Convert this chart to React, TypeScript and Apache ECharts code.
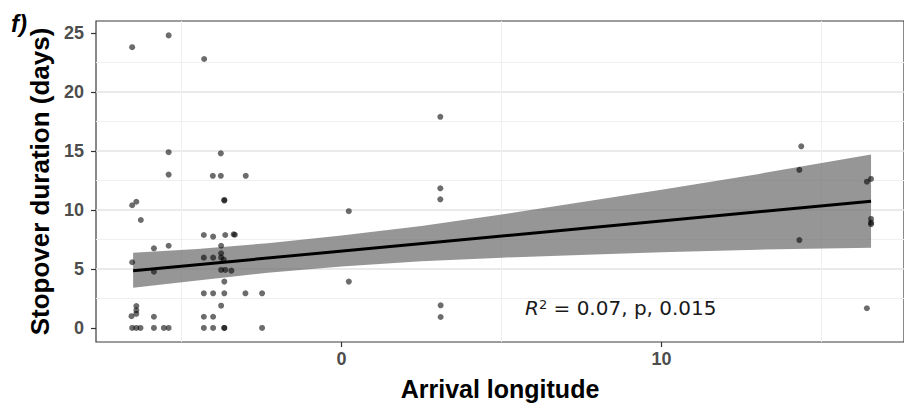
import React, { useEffect, useRef } from "react";
import * as echarts from "echarts";

// Tick labels
const xTicks = [0, 10];
const yTicks = [0, 5, 10, 15, 20, 25];

// Observations (arrival longitude, stopover duration in days)
const pointLon = [
  -6.54, -5.4, -4.29, -5.4, -3.77, -5.4, -4.02, -3.77, -2.99,
  -6.54, -6.41, -6.27, -3.66, -3.66,
  -6.54, -5.86, -5.4, -5.86,
  -4.3, -4.01, -3.63, -3.37, -3.33,
  -3.76, -3.76, -4.3, -4.01, -3.68, -3.76,
  -3.76, -3.63, -3.44, -3.66,
  -4.3, -4.01, -3.66, -3.0, -2.48,
  -3.76, -6.41, -6.41, -6.41, -6.56, -5.86, -4.3, -4.01,
  -6.54, -6.41, -6.28, -5.86, -5.55, -5.4, -4.3, -4.01, -3.66, -3.66, -2.48,
  0.23, 0.23, 3.09, 3.09, 3.09, 3.1, 3.1,
  14.37, 14.31, 14.31, 16.42, 16.55, 16.55, 16.55, 16.55, 16.42,
];
const pointDays = [
  23.8, 24.8, 22.8, 14.9, 14.8, 13.0, 12.9, 12.9, 12.9,
  10.4, 10.7, 9.15, 10.85, 10.8,
  5.57, 6.75, 6.97, 4.77,
  7.88, 7.74, 7.88, 7.94, 7.9,
  6.97, 6.33, 5.96, 5.96, 5.8, 5.96,
  4.92, 4.92, 4.86, 3.93,
  2.94, 2.94, 2.94, 2.94, 2.94,
  1.89, 1.86, 1.5, 1.2, 1.0, 0.95, 0.95, 0.95,
  0, 0, 0, 0, 0, 0, 0, 0, 0, 0, 0,
  9.9, 3.93, 17.9, 11.84, 10.9, 1.92, 0.93,
  15.4, 13.4, 7.45, 12.4, 12.63, 9.24, 8.93, 8.8, 1.67,
];

// Linear fit and its confidence band
const fitLon = [-6.51, 16.55];
const fitDays = [4.85, 10.75];
const bandLon = [-6.51, -4.5, -2.3, 0, 2.5, 5, 10, 13, 16.55];
const bandUpper = [6.38, 6.7, 7.18, 7.83, 8.65, 9.62, 11.72, 13.04, 14.7];
const bandLower = [3.4, 4.03, 4.68, 5.2, 5.65, 5.96, 6.42, 6.64, 6.8];

const FONT = "'Liberation Sans', Arial, sans-serif";

export default function App() {
  const ref = useRef<HTMLDivElement>(null);

  useEffect(() => {
    document.body.style.margin = "0";
    if (!ref.current) return;
    const chart = echarts.init(ref.current, undefined, { renderer: "svg" });

    const points = pointLon.map((x, i) => [x, pointDays[i]]);
    const fitData = fitLon.map((x, i) => [x, fitDays[i]]);

    const axisCommon = {
      type: "value",
      axisLine: { show: false, onZero: false },
      splitLine: {
        show: true,
        showMinLine: false,
        showMaxLine: false,
        lineStyle: { color: "#e3e3e3", width: 1.6 },
      },
      minorTick: { show: false, splitNumber: 2 },
      minorSplitLine: { show: true, lineStyle: { color: "#efefef", width: 1 } },
    };

    chart.setOption({
      animation: false,
      grid: {
        left: 96,
        right: 0,
        top: 21,
        bottom: 64,
        show: true,
        borderColor: "#3a3a3a",
        borderWidth: 1.2,
        backgroundColor: "transparent",
      },
      xAxis: {
        ...axisCommon,
        min: -7.67,
        max: 17.58,
        splitNumber: 3,
        name: "Arrival longitude",
        nameLocation: "middle",
        nameGap: 34,
        nameTextStyle: { fontFamily: FONT, fontSize: 25, fontWeight: "bold", color: "#000" },
        axisTick: {
          show: true,
          customValues: xTicks,
          length: 5,
          lineStyle: { color: "#333", width: 1.2 },
        },
        axisLabel: {
          customValues: xTicks,
          margin: 8,
          fontFamily: FONT,
          fontSize: 18,
          fontWeight: "bold",
          color: "#4d4d4d",
        },
      },
      yAxis: {
        ...axisCommon,
        min: -1.19,
        max: 26.02,
        splitNumber: 5,
        name: "Stopover duration (days)",
        nameLocation: "middle",
        nameGap: 40,
        nameRotate: 90,
        nameTextStyle: { fontFamily: FONT, fontSize: 26, fontWeight: "bold", color: "#000" },
        axisTick: {
          show: true,
          customValues: yTicks,
          length: 5,
          lineStyle: { color: "#333", width: 1.2 },
        },
        axisLabel: {
          customValues: yTicks,
          margin: 12,
          fontFamily: FONT,
          fontSize: 18,
          fontWeight: "bold",
          color: "#4d4d4d",
        },
      },
      series: [
        {
          type: "custom",
          data: [[bandLon[0], bandLower[0]]],
          z: 2,
          silent: true,
          renderItem: (_params: any, api: any) => {
            const pts: number[][] = [];
            for (let i = 0; i < bandLon.length; i++) pts.push(api.coord([bandLon[i], bandUpper[i]]));
            for (let i = bandLon.length - 1; i >= 0; i--) pts.push(api.coord([bandLon[i], bandLower[i]]));
            return {
              type: "polygon",
              shape: { points: pts },
              style: { fill: "rgba(110,110,110,0.72)", stroke: "none" },
            };
          },
        },
        {
          type: "line",
          data: fitData,
          symbol: "none",
          lineStyle: { color: "#000", width: 3 },
          z: 3,
          silent: true,
        },
        {
          type: "scatter",
          data: points,
          symbol: "circle",
          symbolSize: 6,
          itemStyle: { color: "rgba(0,0,0,0.72)" },
          z: 4,
          silent: true,
        },
      ],
      graphic: [
        {
          type: "text",
          left: 11,
          top: 11,
          style: {
            text: "f)",
            fontFamily: FONT,
            fontSize: 24,
            fontWeight: "bold",
            fontStyle: "italic",
            fill: "#000",
          },
        },
        {
          type: "text",
          left: 525,
          top: 298,
          z: 10,
          style: {
            text: "{r|R}{s|2}{t| = 0.07, p, 0.015}",
            fill: "#1a1a1a",
            rich: {
              r: { fontFamily: "'DejaVu Sans', sans-serif", fontSize: 20, fontStyle: "italic", fill: "#1a1a1a" },
              s: { fontFamily: "'DejaVu Sans', sans-serif", fontSize: 13, verticalAlign: "top", fill: "#1a1a1a" },
              t: { fontFamily: "'DejaVu Sans', sans-serif", fontSize: 20, fill: "#1a1a1a" },
            },
          },
        },
      ],
    });

    return () => chart.dispose();
  }, []);

  return <div ref={ref} style={{ width: 904, height: 406 }} />;
}
